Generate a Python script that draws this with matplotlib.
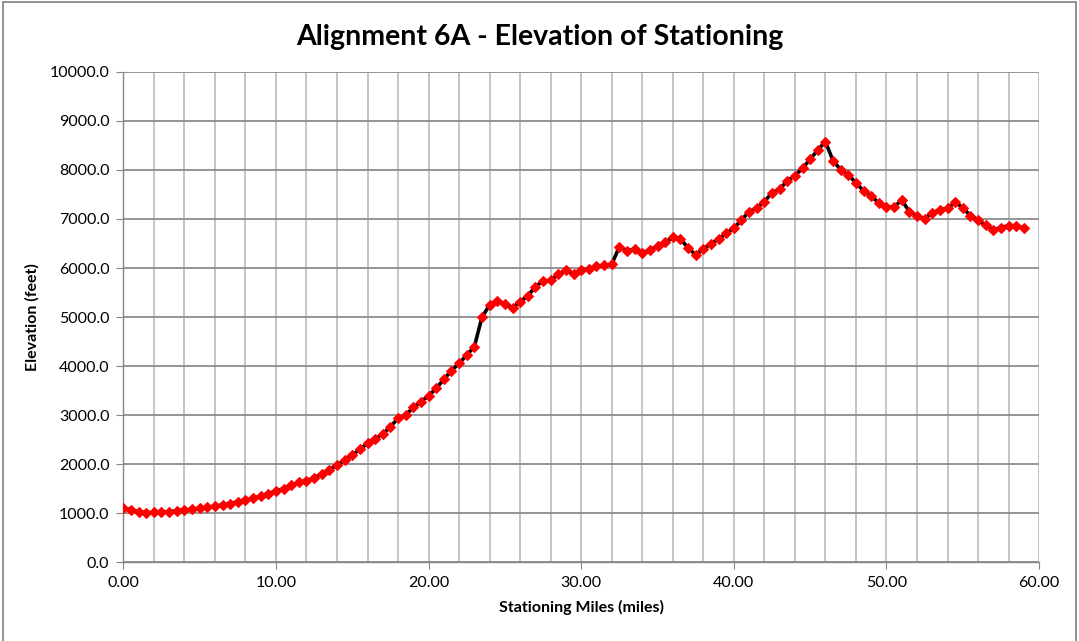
import matplotlib
matplotlib.use('Agg')
import matplotlib.pyplot as plt
from matplotlib.patches import Rectangle
from matplotlib.ticker import MultipleLocator, FormatStrFormatter

plt.rcParams['font.family'] = ['Lato', 'DejaVu Sans']

# stationing every half mile
miles = [
    0.0, 0.5, 1.0, 1.5, 2.0, 2.5, 3.0, 3.5, 4.0, 4.5,
    5.0, 5.5, 6.0, 6.5, 7.0, 7.5, 8.0, 8.5, 9.0, 9.5,
    10.0, 10.5, 11.0, 11.5, 12.0, 12.5, 13.0, 13.5, 14.0, 14.5,
    15.0, 15.5, 16.0, 16.5, 17.0, 17.5, 18.0, 18.5, 19.0, 19.5,
    20.0, 20.5, 21.0, 21.5, 22.0, 22.5, 23.0, 23.5, 24.0, 24.5,
    25.0, 25.5, 26.0, 26.5, 27.0, 27.5, 28.0, 28.5, 29.0, 29.5,
    30.0, 30.5, 31.0, 31.5, 32.0, 32.5, 33.0, 33.5, 34.0, 34.5,
    35.0, 35.5, 36.0, 36.5, 37.0, 37.5, 38.0, 38.5, 39.0, 39.5,
    40.0, 40.5, 41.0, 41.5, 42.0, 42.5, 43.0, 43.5, 44.0, 44.5,
    45.0, 45.5, 46.0, 46.5, 47.0, 47.5, 48.0, 48.5, 49.0, 49.5,
    50.0, 50.5, 51.0, 51.5, 52.0, 52.5, 53.0, 53.5, 54.0, 54.5,
    55.0, 55.5, 56.0, 56.5, 57.0, 57.5, 58.0, 58.5, 59.0,
]

elevation = [
    1100, 1070, 1025, 1010, 1012, 1015, 1027, 1048, 1062, 1078,
    1098, 1122, 1138, 1170, 1192, 1232, 1265, 1300, 1347, 1395,
    1450, 1498, 1571, 1625, 1660, 1721, 1796, 1878, 1980, 2082,
    2184, 2300, 2422, 2517, 2612, 2762, 2932, 3000, 3156, 3272,
    3395, 3545, 3728, 3905, 4054, 4224, 4394, 5000, 5245, 5327,
    5265, 5184, 5313, 5429, 5619, 5735, 5748, 5871, 5952, 5884,
    5959, 5980, 6034, 6055, 6075, 6435, 6353, 6388, 6312, 6367,
    6450, 6524, 6626, 6592, 6415, 6265, 6388, 6497, 6585, 6708,
    6810, 6980, 7150, 7224, 7354, 7537, 7606, 7782, 7884, 8034,
    8218, 8408, 8578, 8190, 8005, 7898, 7741, 7571, 7476, 7320,
    7238, 7245, 7388, 7150, 7068, 7006, 7129, 7184, 7218, 7340,
    7231, 7068, 6973, 6871, 6782, 6823, 6864, 6864, 6810,
]

fig = plt.figure(figsize=(10.79, 6.41), dpi=100)
ax = fig.add_axes([0.1143, 0.1232, 0.8487, 0.7645])

ax.plot(miles, elevation, color='black', linewidth=2.6, zorder=3,
        marker='D', markersize=5.2, markerfacecolor='#FF0000',
        markeredgecolor='#FF0000', markeredgewidth=0.8)

ax.set_xlim(0, 60)
ax.set_ylim(0, 10000)
ax.xaxis.set_major_locator(MultipleLocator(10))
ax.xaxis.set_minor_locator(MultipleLocator(2))
ax.yaxis.set_major_locator(MultipleLocator(1000))
ax.xaxis.set_major_formatter(FormatStrFormatter('%.2f'))
ax.yaxis.set_major_formatter(FormatStrFormatter('%.1f'))

ax.grid(True, which='major', axis='y', color='#8C8C8C', linewidth=1.3)
ax.grid(True, which='both', axis='x', color='#BFBFBF', linewidth=1.3)
ax.set_axisbelow(True)

for side in ['top', 'right']:
    ax.spines[side].set_visible(False)
for side in ['left', 'bottom']:
    ax.spines[side].set_color('#868686')
    ax.spines[side].set_linewidth(1.0)

ax.tick_params(axis='both', which='major', direction='out', length=5,
               color='#868686', labelsize=11.5, labelcolor='black', pad=5)
ax.tick_params(axis='x', which='minor', length=0)

fig.text(0.5, 0.943, 'Alignment 6A - Elevation of Stationing', fontsize=20.5,
         fontweight='bold', ha='center', va='center')
ax.set_xlabel('Stationing Miles (miles)', fontsize=11.5, fontweight='bold',
              labelpad=7)
ax.set_ylabel('Elevation (feet)', fontsize=11.5, fontweight='bold',
              labelpad=7)

# chart frame
fig.patches.append(Rectangle((0.003, -0.01), 0.994, 1.007, transform=fig.transFigure,
                             fill=False, edgecolor='#7F7F7F', linewidth=1.2))

fig.savefig('out.png', dpi=100)
